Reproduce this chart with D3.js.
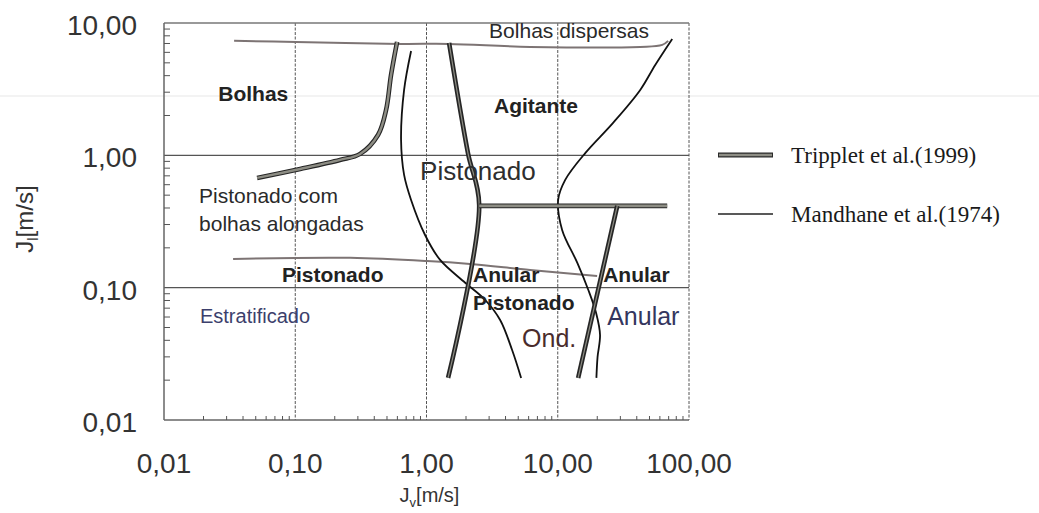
<!DOCTYPE html>
<html>
<head>
<meta charset="utf-8">
<script src="https://cdn.jsdelivr.net/npm/d3@7"></script>
<style>
  body { margin: 0; background: #fff; }
  svg { display: block; }
  .tick-label { font-family: "Liberation Sans", Arial, sans-serif; font-size: 28px; fill: #333; }
  .lbl { font-family: "Liberation Sans", Arial, sans-serif; fill: #222; }
  .legend text { font-family: "Liberation Serif", "Times New Roman", serif; font-size: 23px; fill: #1a1a1a; }
</style>
</head>
<body>
<script>
// axis ticks
const xMajor = [0.01, 0.1, 1, 10, 100]
const yMajor = [0.01, 0.1, 1, 10]

// Tripplet et al. (1999) boundaries [Jv, Jl]
const trippletBubbleSlug = [[0.0512, 0.675], [0.109, 0.789], [0.219, 0.923], [0.312, 1.025], [0.428, 1.43], [0.492, 2.2], [0.537, 4.05], [0.597, 7.2]]
const trippletSlugChurn = [[1.486, 7.08], [2.07, 1.04], [2.52, 0.422], [1.46, 0.0208]]
const trippletChurnLevel = [[2.52, 0.415], [68.2, 0.415]]
const trippletAnnular = [[28.4, 0.415], [14.3, 0.0208]]

// thin grey boundaries (top dispersed bubble line and stratified/slug line)
const topBoundary = [[0.0342, 7.33], [0.1014, 7.2], [0.63, 6.95], [1.486, 6.95], [6.16, 6.6], [42.5, 6.6], [62.5, 6.83], [69.4, 7.33]]
const slugBoundary = [[0.0336, 0.165], [0.262, 0.168], [1.01, 0.159], [2.15, 0.151], [6.16, 0.136], [19.95, 0.1225]]

// Mandhane et al. (1974)
const mandhaneLeft = [[0.763, 6.15], [0.675, 3.12], [0.640, 1.31], [0.675, 0.711], [0.763, 0.46], [0.975, 0.25], [1.27, 0.162], [1.97, 0.109], [2.80, 0.0807], [3.64, 0.057], [4.49, 0.0338], [5.26, 0.0208]]
const mandhaneRight = [[74.5, 7.58], [55.3, 4.82], [42.5, 3.12], [26.4, 1.76], [16.2, 1.04], [11.4, 0.652], [10.07, 0.46], [10.8, 0.273], [14.1, 0.154], [17.1, 0.096], [19.6, 0.0644], [21.0, 0.0439], [20.1, 0.0299], [19.7, 0.0208]]

// region labels [text, Jv, Jl, kind]
const regionLabels = [
  ["Bolhas", 0.0259, 2.58, "bold"],
  ["Agitante", 3.27, 2.09, "bold"],
  ["Bolhas dispersas", 3.0, 7.71, "plain"],
  ["Pistonado", 0.893, 0.652, "big"],
  ["Pistonado com", 0.0185, 0.437, "plain"],
  ["bolhas alongadas", 0.0185, 0.268, "plain"],
  ["Pistonado", 0.0792, 0.110, "bold"],
  ["Estratificado", 0.0188, 0.0541, "navy"],
  ["Anular", 2.26, 0.110, "bold"],
  ["Anular", 22.2, 0.110, "bold"],
  ["Pistonado", 2.26, 0.0678, "bold"],
  ["Ond.", 5.35, 0.0356, "brown"],
  ["Anular", 23.8, 0.0522, "bignavy"]
]

const legendNames = ["Tripplet et al.(1999)", "Mandhane et al.(1974)"]

const labelStyle = {
  bold: {size: 21, weight: "bold", color: "#222"},
  plain: {size: 21, weight: "normal", color: "#2a2a2a"},
  big: {size: 26, weight: "normal", color: "#2e2e2e"},
  navy: {size: 20, weight: "normal", color: "#3c3f6c"},
  brown: {size: 25, weight: "normal", color: "#4a2c2c"},
  bignavy: {size: 25, weight: "normal", color: "#34365e"}
}

var W = 1039, H = 513

var svg = d3.select("body").append("svg")
    .attr("width", W)
    .attr("height", H)

var x = d3.scaleLog().domain([0.01, 100]).range([164, 689])
var y = d3.scaleLog().domain([0.01, 10]).range([420, 23])

// faint scan line across the page
svg.append("line")
    .attr("x1", 0).attr("x2", W)
    .attr("y1", y(2.81)).attr("y2", y(2.81))
    .attr("stroke", "#efefef").attr("stroke-width", 1.5)

// vertical grid (dashed)
svg.append("g").selectAll("line")
    .data(xMajor.slice(1))
    .join("line")
    .attr("x1", d => x(d)).attr("x2", d => x(d))
    .attr("y1", y(10)).attr("y2", y(0.01))
    .attr("stroke", "#555")
    .attr("stroke-width", 1)
    .attr("stroke-dasharray", "3,1.5")

// horizontal grid
svg.append("g").selectAll("line")
    .data(yMajor.slice(1))
    .join("line")
    .attr("x1", x(0.01)).attr("x2", x(100))
    .attr("y1", d => y(d)).attr("y2", d => y(d))
    .attr("stroke", d => d === 10 ? "#777" : "#555")
    .attr("stroke-width", d => d === 10 ? 1.5 : 1.2)

// left + bottom axis lines
svg.append("line")
    .attr("x1", x(0.01)).attr("x2", x(0.01))
    .attr("y1", y(10)).attr("y2", y(0.01))
    .attr("stroke", "#666").attr("stroke-width", 1.5)
svg.append("line")
    .attr("x1", x(0.01)).attr("x2", x(100))
    .attr("y1", y(0.01)).attr("y2", y(0.01))
    .attr("stroke", "#666").attr("stroke-width", 1.5)

// minor ticks
var yMinor = [], xMinor = []
yMajor.slice(0, -1).forEach(d => { for (let k = 2; k <= 9; k++) yMinor.push(d * k) })
xMajor.slice(0, -1).forEach(d => { for (let k = 2; k <= 9; k++) xMinor.push(d * k) })

svg.append("g").selectAll("line")
    .data(yMinor)
    .join("line")
    .attr("x1", x(0.01)).attr("x2", x(0.01) + 6)
    .attr("y1", d => y(d)).attr("y2", d => y(d))
    .attr("stroke", "#555").attr("stroke-width", 1)

svg.append("g").selectAll("line")
    .data(xMinor)
    .join("line")
    .attr("x1", d => x(d)).attr("x2", d => x(d))
    .attr("y1", y(0.01)).attr("y2", y(0.01) - 4)
    .attr("stroke", "#555").attr("stroke-width", 1)

var fmt = d => d.toFixed(2).replace(".", ",")

svg.append("g").selectAll("text")
    .data(yMajor)
    .join("text")
    .attr("class", "tick-label")
    .attr("x", x(0.01) - 27)
    .attr("y", d => y(d) + 12)
    .attr("text-anchor", "end")
    .text(fmt)

svg.append("g").selectAll("text")
    .data(xMajor)
    .join("text")
    .attr("class", "tick-label")
    .attr("x", d => x(d))
    .attr("y", y(0.01) + 53)
    .attr("text-anchor", "middle")
    .text(fmt)

// axis titles
var xt = svg.append("text")
    .attr("class", "lbl")
    .attr("x", x(1) + 3)
    .attr("y", 502)
    .attr("text-anchor", "middle")
    .style("font-size", "20px")
    .style("fill", "#333")
xt.append("tspan").text("J")
xt.append("tspan").attr("dy", 5).style("font-size", "13px").text("v")
xt.append("tspan").attr("dy", -5).text("[m/s]")

var yt = svg.append("text")
    .attr("class", "lbl")
    .attr("transform", "translate(33," + y(0.33) + ") rotate(-90)")
    .attr("text-anchor", "middle")
    .style("font-size", "24px")
    .style("fill", "#333")
yt.append("tspan").text("J")
yt.append("tspan").attr("dy", 5).style("font-size", "15px").text("l")
yt.append("tspan").attr("dy", -5).text("[m/s]")

var line = d3.line()
    .x(d => x(d[0]))
    .y(d => y(d[1]))
    .curve(d3.curveCatmullRom.alpha(0.5))

// thin grey boundaries
;[topBoundary, slugBoundary].forEach(s => {
  svg.append("path")
      .attr("d", line(s))
      .attr("fill", "none")
      .attr("stroke", "#7d7474")
      .attr("stroke-width", 2)
})

// Mandhane
;[mandhaneLeft, mandhaneRight].forEach(s => {
  svg.append("path")
      .attr("d", line(s))
      .attr("fill", "none")
      .attr("stroke", "#111")
      .attr("stroke-width", 1.8)
})

// Tripplet: dark outline with grey core (steep ones look almost black)
var tripplet = [
  {pts: trippletBubbleSlug, core: 2.4},
  {pts: trippletSlugChurn, core: 1.2},
  {pts: trippletChurnLevel, core: 2.6},
  {pts: trippletAnnular, core: 1.2}
]
tripplet.forEach(s => {
  svg.append("path")
      .attr("d", line(s.pts))
      .attr("fill", "none")
      .attr("stroke", "#262626")
      .attr("stroke-width", 4.6)
  svg.append("path")
      .attr("d", line(s.pts))
      .attr("fill", "none")
      .attr("stroke", "#8d8d84")
      .attr("stroke-width", s.core)
})

// region labels
svg.append("g").selectAll("text")
    .data(regionLabels)
    .join("text")
    .attr("class", "lbl")
    .attr("x", d => x(d[1]))
    .attr("y", d => y(d[2]))
    .style("font-size", d => labelStyle[d[3]].size + "px")
    .style("font-weight", d => labelStyle[d[3]].weight)
    .style("fill", d => labelStyle[d[3]].color)
    .text(d => d[0])

// legend
var lg = svg.append("g").attr("class", "legend")
var ly = [155, 214]
legendNames.forEach((name, i) => {
  var g = lg.append("g").attr("transform", "translate(718," + ly[i] + ")")
  if (i === 0) {
    g.append("line").attr("x1", 0).attr("x2", 55).attr("y1", 0).attr("y2", 0)
        .attr("stroke", "#2a2a2a").attr("stroke-width", 5)
    g.append("line").attr("x1", 1).attr("x2", 54).attr("y1", 0).attr("y2", 0)
        .attr("stroke", "#8d8d84").attr("stroke-width", 2.4)
  } else {
    g.append("line").attr("x1", 0).attr("x2", 55).attr("y1", 0).attr("y2", 0)
        .attr("stroke", "#222").attr("stroke-width", 1.3)
  }
  g.append("text").attr("x", 73).attr("y", 8).text(name)
})
</script>
</body>
</html>
